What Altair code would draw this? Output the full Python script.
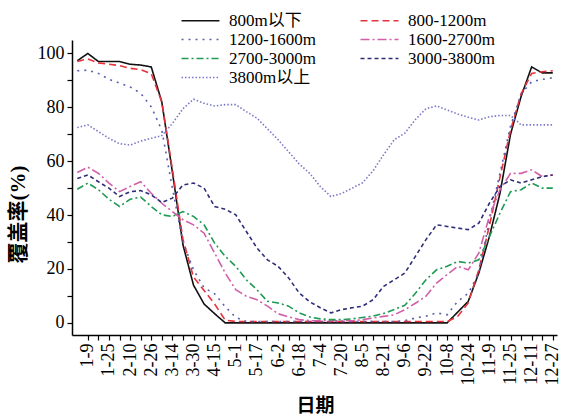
import json
import altair as alt
import pandas as pd

# 8-day dates (index 0..45)
dates = ["1-1", "1-9", "1-17", "1-25", "2-2", "2-10", "2-18", "2-26", "3-6", "3-14",
         "3-22", "3-30", "4-7", "4-15", "4-23", "5-1", "5-9", "5-17", "5-25", "6-2",
         "6-10", "6-18", "6-26", "7-4", "7-12", "7-20", "7-28", "8-5", "8-13", "8-21",
         "8-29", "9-6", "9-14", "9-22", "9-30", "10-8", "10-16", "10-24", "11-1", "11-9",
         "11-17", "11-25", "12-3", "12-11", "12-19", "12-27"]

series_names = ["800m以下", "800-1200m", "1200-1600m", "1600-2700m",
                "2700-3000m", "3000-3800m", "3800m以上"]

s_800 = [97.3, 100, 97, 97, 97, 96, 95.7, 95, 82, 56,
         29, 14, 7, 3.4, 0, 0, 0, 0, 0, 0,
         0, 0, 0, 0, 0, 0, 0, 0, 0, 0,
         0, 0, 0, 0, 0, 0, 4, 8, 18.5, 32,
         48, 70, 84, 95, 92.8, 92.8]
s_800_1200 = [97, 98, 96.5, 96, 95.5, 94.5, 94, 92.5, 82, 57,
              31, 17, 12, 7, 1, 0.5, 0.5, 0.5, 0.5, 0.5,
              0.5, 0.5, 0.5, 0.5, 0.5, 0.5, 0.5, 0.5, 0.5, 0.5,
              0.5, 0.5, 0.5, 0.5, 0.5, 0.5, 2.4, 7.4, 19.7, 36,
              54, 71.5, 85, 92.6, 93.2, 93.6]
s_1200_1600 = [93.6, 93.8, 92.6, 90.4, 89, 87.6, 85.2, 80.2, 71.5, 50,
               30, 19.7, 13, 10.8, 6, 2, 0.5, 0.5, 0.5, 0.5,
               0.5, 0.5, 0.5, 0.5, 0.5, 0.5, 0.5, 0.5, 0.5, 0.5,
               0.5, 0.8, 1.8, 2.5, 3.7, 3, 8, 11, 18.5, 38,
               55.5, 73, 85, 89.5, 90.4, 91]
s_1600_2700 = [55.8, 57.8, 55.5, 51.9, 48.7, 50.6, 52.4, 48.1, 44.4, 41.3,
               38.3, 36.4, 33.3, 25.9, 18.5, 12.3, 9.9, 8.6, 6.2, 3.4,
               2.2, 1.2, 0.8, 0.8, 0.8, 0.8, 0.8, 1.2, 1.8, 2.4,
               3, 4.9, 7.3, 9.9, 14.8, 17.9, 21, 19.7, 25.9, 39.5,
               49.4, 55.5, 55.5, 56.8, 54.3, 54.9]
s_2700_3000 = [49.6, 51.9, 49.4, 45.9, 43.2, 45.9, 46.7, 43.2, 40.1, 39.5,
               41.3, 39.5, 36.4, 29.6, 24.7, 21, 16, 12.3, 8, 7.4,
               6.2, 3.7, 2.2, 1.5, 1.2, 1.2, 1.5, 2, 2.5, 3.5,
               5, 6.5, 11, 16, 19.7, 21, 22.8, 22.2, 23.4, 32,
               40.7, 48.7, 49.4, 51.9, 50, 50]
s_3000_3800 = [53.6, 54.9, 52.4, 50, 46.9, 48.7, 49.1, 47.5, 44.7, 46.3,
               51.2, 51.9, 50, 43.2, 42.2, 40.1, 33.9, 27.8, 23.4, 21,
               16.7, 11.1, 7.8, 5.6, 3.7, 4.9, 5.6, 6.2, 8.6, 13.6,
               16, 18.5, 24.7, 30.9, 36.4, 35.8, 35.2, 34.6, 37, 44.4,
               50.6, 53.1, 51.9, 53.1, 54.3, 54.9]
s_3800 = [72.5, 73.5, 71, 68.5, 66.5, 66, 67.5, 68.5, 69.5, 74,
          79.5, 83, 81.5, 80.5, 81, 81, 78.4, 76, 72, 68,
          63.5, 59, 55.5, 50.6, 46.9, 48, 50, 52, 56.5, 62.5,
          68, 70.4, 75.5, 79.5, 80.5, 79, 77.5, 76.3, 75.3, 76.5,
          77, 77, 73.5, 73.5, 73.5, 73.5]

all_series = [s_800, s_800_1200, s_1200_1600, s_1600_2700, s_2700_3000, s_3000_3800, s_3800]

colors = ["#111111", "#e8333d", "#5b5fb0", "#d060a8", "#209a55", "#2e2e78", "#7a78c8"]
dashes = [[1, 0], [7, 4], [2, 5], [9, 3, 2, 3], [7, 3, 2, 3], [4, 3], [1.5, 2]]

# legend is filled column by column: left column, then right column
legend_order = [0, 2, 4, 6, 1, 3, 5]
dom = [series_names[k] for k in legend_order]
col_range = [colors[k] for k in legend_order]
dash_range = [dashes[k] for k in legend_order]

rows = []
for name, vals in zip(series_names, all_series):
    for i, (d, v) in enumerate(zip(dates, vals)):
        rows.append({"series": name, "idx": i, "date": d, "cover": v})
df = pd.DataFrame(rows)

SERIF = "Liberation Serif, serif"
CJK = "Liberation Serif, Noto Sans CJK SC, serif"

x_label_expr = "datum.value % 2 == 1 ? " + json.dumps(dates) + "[datum.value] : ''"

legend = alt.Legend(
    title=None, orient="none", legendX=120, legendY=-28, columns=2,
    symbolType="M-4,0H4", symbolSize=90, symbolStrokeWidth=1.6,
    labelFontSize=17, labelFont=CJK, labelColor="black", labelOffset=20,
    rowPadding=1, columnPadding=41, labelLimit=300,
)

chart = alt.Chart(df).mark_line(strokeWidth=1.6).encode(
    x=alt.X("idx:Q",
            scale=alt.Scale(domain=[-0.5, 45.4], nice=False, zero=False),
            axis=alt.Axis(values=list(range(1, 46)), labelExpr=x_label_expr,
                          labelAngle=-90, labelOverlap=False, labelFlush=False,
                          labelFont=SERIF, labelFontSize=18, labelColor="black",
                          labelPadding=3, tickSize=5, tickColor="black", tickWidth=1.2,
                          domainColor="black", domainWidth=1.5, grid=False,
                          title="日期", titleFont=CJK, titleFontSize=19,
                          titleFontWeight="bold", titleColor="black",
                          titleX=243, titleY=70, titleBaseline="middle",
                          titleAlign="center")),
    y=alt.Y("cover:Q",
            scale=alt.Scale(domain=[-4.5, 105], nice=False, zero=False),
            axis=alt.Axis(values=list(range(0, 101, 10)),
                          labelExpr="datum.value % 20 == 0 ? datum.label : ''",
                          labelFont=SERIF, labelFontSize=18, labelColor="black",
                          labelPadding=3, tickSize=5, tickColor="black", tickWidth=1.2,
                          domainColor="black", domainWidth=1.5, grid=False,
                          title="覆盖率(%)", titleFont=CJK, titleFontSize=21,
                          titleFontWeight="bold", titleColor="black", titleAngle=-90,
                          titleX=-54, titleY=174, titleBaseline="middle",
                          titleAlign="center")),
    color=alt.Color("series:N",
                    scale=alt.Scale(domain=dom, range=col_range), legend=legend),
    strokeDash=alt.StrokeDash("series:N",
                              scale=alt.Scale(domain=dom, range=dash_range),
                              legend=legend),
).properties(
    width=485, height=295,
    padding={"left": 72, "top": 40, "right": 8, "bottom": 81},
    autosize=alt.AutoSizeParams(type="none"),
    background="white",
).configure_view(stroke=None)

chart.save("out.html", embed_options={"renderer": "svg", "actions": False})
